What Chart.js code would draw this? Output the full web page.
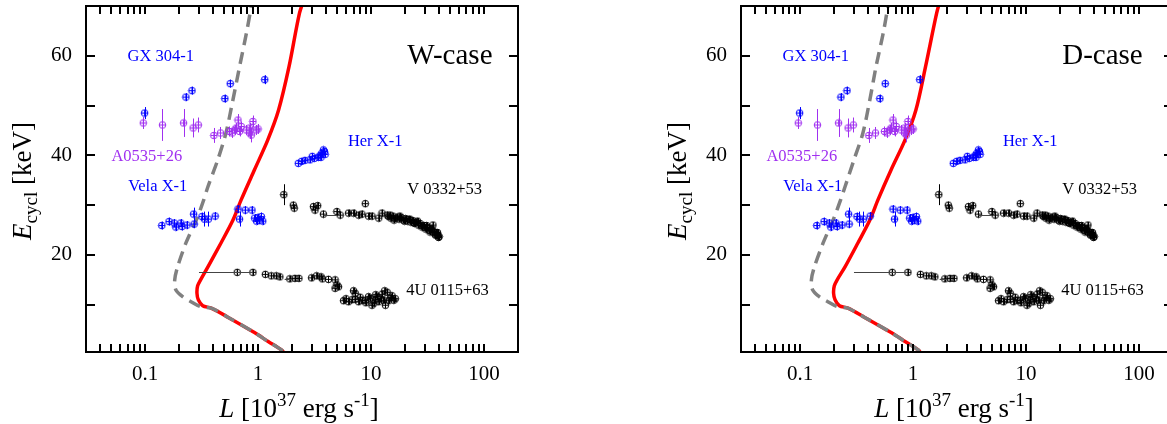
<!DOCTYPE html>
<html><head><meta charset="utf-8">
<script src="https://cdn.jsdelivr.net/npm/chart.js@4.4.0/dist/chart.umd.min.js"></script>
<style>
html,body{margin:0;padding:0;background:#fff;overflow:hidden;}
#wrap{position:relative;width:1167px;height:424px;overflow:hidden;background:#fff;}
canvas{position:absolute;top:0;}
#c1{left:0;}
#c2{left:655px;}
</style></head><body>
<div id="wrap"><canvas id="c1" width="655" height="424"></canvas><canvas id="c2" width="655" height="424"></canvas></div>
<script>
// ---------- axis ticks ----------
const xTickValues = [0.1, 1, 10, 100];
const xTickLabels = ['0.1', '1', '10', '100'];
const yTickValues = [20, 40, 60];
const yTickLabels = ['20', '40', '60'];
const yMinorTicks = [10, 20, 30, 40, 50, 60];

// ---------- observed sources (L in 1e37 erg/s, E in keV) ----------
const gxL = [0.099, 0.230, 0.260, 0.508, 0.567, 1.146];
const gxE = [48.5, 51.7, 53.0, 51.4, 54.4, 55.2];
const gxErr = [1.2, 0.8, 0.8, 0.8, 0.8, 0.9];

const aL = [0.0964, 0.1426, 0.219, 0.266, 0.296, 0.406, 0.465, 0.558, 0.590, 0.619, 0.641, 0.664, 0.686, 0.710, 0.787, 0.842, 0.842, 0.872, 0.900, 0.966, 1.00];
const aE = [46.5, 46.1, 46.5, 45.5, 46.1, 44.0, 44.5, 44.8, 44.5, 45.1, 45.5, 47.1, 44.8, 45.8, 45.1, 45.5, 44.5, 44.1, 46.8, 45.1, 45.3];
const aErr = [1.2, 3.2, 2.8, 1.9, 1.5, 1.5, 1.2, 1.0, 1.0, 1.0, 1.0, 1.2, 1.0, 1.0, 1.0, 1.0, 1.2, 1.5, 1.2, 1.0, 1.0];

const velaL = [0.1406, 0.163, 0.181, 0.187, 0.207, 0.212, 0.235, 0.269, 0.272, 0.319, 0.335, 0.363, 0.417, 0.664, 0.686, 0.77, 0.884, 0.933, 0.97, 0.99, 1.03, 1.07, 1.10];
const velaE = [25.9, 26.7, 26.4, 25.6, 26.4, 25.7, 26.0, 28.2, 26.2, 27.7, 27.2, 27.2, 27.8, 29.2, 27.2, 29.0, 29.0, 27.4, 26.8, 27.5, 27.0, 27.7, 26.8];
const velaErr = [0.8, 0.8, 0.8, 0.8, 0.8, 0.8, 0.8, 1.3, 0.8, 0.8, 1.5, 1.5, 0.8, 0.8, 1.5, 0.8, 0.8, 0.8, 0.8, 0.8, 0.8, 0.8, 0.8];

const herL = [2.27, 2.43, 2.60, 2.88, 3.02, 3.15, 3.42, 3.54, 3.60, 3.66, 3.79, 3.87, 3.92];
const herE = [38.4, 38.8, 39.0, 39.1, 39.8, 39.4, 39.6, 40.0, 39.6, 40.4, 41.1, 40.8, 40.2];
const herErr = [0.6, 0.6, 0.6, 0.6, 0.6, 0.6, 0.6, 0.6, 0.6, 0.6, 0.6, 0.6, 0.6];

const vL = [1.69, 2.05, 2.09, 3.09, 3.19, 3.37, 3.79, 4.98, 5.33, 6.32, 7.0, 7.76, 8.3, 8.9, 9.5, 10.2, 11.7, 12.5, 13.9,
  14.3, 15.0, 15.6, 16.3, 17.0, 17.7, 18.5, 19.3, 20.2, 21.0, 21.7, 22.5, 23.4, 24.3, 25.2, 26.2, 27.2, 28.3, 29.4, 30.5,
  31.6, 32.8, 34.0, 35.3, 36.0, 36.8, 37.6, 38.4, 39.2, 40.0,
  14.8, 16.0, 18.0, 19.8, 22.0, 23.8, 25.8, 27.8, 29.9, 31.0, 33.3, 34.6, 37.2, 38.8, 39.6];
const vE = [32.1, 30.0, 29.4, 29.7, 29.0, 29.9, 28.2, 28.7, 28.0, 28.4, 28.4, 28.0, 28.2, 30.3, 27.8, 27.8, 27.4, 28.4, 28.0,
  27.7, 27.4, 27.8, 27.3, 27.6, 27.2, 27.5, 27.0, 27.3, 26.8, 27.1, 26.6, 26.9, 26.3, 26.6, 26.0, 26.3, 25.6, 25.9, 25.2,
  25.5, 24.9, 25.1, 26.0, 24.6, 24.2, 24.5, 24.0, 23.9, 23.7,
  28.0, 27.0, 27.8, 26.8, 27.2, 26.5, 26.8, 25.9, 25.5, 25.9, 24.6, 25.3, 24.0, 24.5, 23.5];
const vErr = [2.1, 0.7, 0.7, 0.7, 0.7, 0.7, 0.7, 0.7, 0.7, 0.7, 0.7, 0.7, 0.7, 0.7, 0.7, 0.7, 0.7, 0.7, 0.7,
  0.6, 0.6, 0.6, 0.6, 0.6, 0.6, 0.6, 0.6, 0.6, 0.6, 0.6, 0.6, 0.6, 0.6, 0.6, 0.6, 0.6, 0.6, 0.6, 0.6,
  0.6, 0.6, 0.6, 0.6, 0.6, 0.6, 0.6, 0.6, 0.6, 0.6,
  0.6, 0.6, 0.6, 0.6, 0.6, 0.6, 0.6, 0.6, 0.6, 0.6, 0.6, 0.6, 0.6, 0.6, 0.6];

const uL = [0.654, 0.90, 1.16, 1.31, 1.45, 1.56, 1.91, 2.12, 2.30, 2.98, 3.30, 3.61, 3.71, 4.2, 4.81, 4.98, 5.16, 4.81,
  5.71, 6.32, 7.25, 7.25, 7.76, 8.33, 8.9, 9.5, 9.85, 10.2, 10.6, 11.3, 11.7, 12.5, 12.9, 13.4, 13.9, 14.9, 15.9,
  6.0, 6.8, 7.0, 8.0, 9.0, 10.9, 11.0, 12.2, 13.2, 14.3, 15.3, 16.4];
const uE = [16.5, 16.5, 16.1, 15.8, 15.8, 15.6, 15.2, 15.3, 15.3, 15.4, 15.8, 15.6, 15.2, 15.1, 15.0, 14.0, 13.6, 13.3,
  10.8, 10.6, 12.3, 11.1, 10.6, 10.9, 10.8, 11.6, 11.3, 9.9, 10.3, 11.6, 10.6, 12.1, 10.9, 9.9, 12.5, 11.4, 10.9,
  11.2, 11.0, 12.8, 11.5, 10.4, 11.0, 12.0, 11.2, 12.8, 10.8, 11.8, 11.2];
const uErr = [0.6, 0.6, 0.6, 0.6, 0.6, 0.6, 0.6, 0.6, 0.6, 0.6, 0.6, 0.6, 0.6, 0.6, 0.6, 0.6, 0.6, 0.6,
  0.6, 0.6, 0.6, 0.6, 0.6, 0.6, 0.6, 0.6, 0.6, 0.6, 0.6, 0.6, 0.6, 0.6, 0.6, 0.6, 0.6, 0.6, 0.6,
  0.6, 0.6, 0.6, 0.6, 0.6, 0.6, 0.6, 0.6, 0.6, 0.6, 0.6, 0.6];

// horizontal error bars (E, L low, L high)
const hbarE = [16.5, 28.1, 15.2, 13.5];
const hbarLo = [0.30, 3.8, 1.72, 4.5];
const hbarHi = [0.90, 5.0, 1.95, 5.0];

// ---------- model curves ----------
const wRedL = [1.75, 1.61, 1.23, 0.93, 0.54, 0.385, 0.324, 0.296, 0.288, 0.292, 0.31, 0.36, 0.47, 0.60, 0.71, 0.93, 1.22, 1.52, 1.88, 2.33, 2.62];
const wRedE = [0.0, 0.9, 2.6, 4.4, 7.5, 9.3, 9.8, 11.0, 12.3, 13.8, 15.0, 17.6, 22.4, 27.0, 31.1, 37.1, 43.1, 49.1, 57.8, 68.6, 72];
const wGreyL = [0.90, 0.87, 0.79, 0.686, 0.60, 0.52, 0.44, 0.36, 0.33, 0.29, 0.23, 0.194, 0.183, 0.187, 0.215, 0.255, 0.31, 0.385, 0.54, 0.93, 1.23, 1.61, 1.75];
const wGreyE = [72, 69.9, 64.6, 57.8, 51.2, 44.5, 39.1, 33.7, 31.0, 27.5, 22.4, 17.6, 15.0, 13.0, 11.6, 10.6, 9.6, 9.3, 7.5, 4.4, 2.6, 0.9, 0];

const dRedL = [1.20, 1.11, 0.85, 0.64, 0.37, 0.265, 0.223, 0.204, 0.198, 0.201, 0.213, 0.25, 0.325, 0.415, 0.49, 0.64, 0.85, 1.06, 1.29, 1.62, 1.78];
const dRedE = [0.0, 0.9, 2.6, 4.4, 7.5, 9.3, 9.8, 11.0, 12.3, 13.8, 15.0, 17.6, 22.4, 27.0, 31.1, 37.1, 43.1, 49.1, 57.8, 68.6, 72];
const dGreyL = [0.62, 0.60, 0.545, 0.47, 0.415, 0.36, 0.30, 0.25, 0.228, 0.20, 0.16, 0.134, 0.126, 0.129, 0.148, 0.176, 0.214, 0.265, 0.37, 0.64, 0.85, 1.11, 1.20];
const dGreyE = [72, 70, 64.6, 57.8, 51.2, 44.5, 39.1, 33.7, 31.0, 27.5, 22.4, 17.6, 15.0, 13.0, 11.6, 10.6, 9.6, 9.3, 7.5, 4.4, 2.6, 0.9, 0];

// ---------- labels ----------
const labelTexts = ['GX 304-1', 'A0535+26', 'Vela X-1', 'Her X-1', 'V 0332+53', '4U 0115+63'];
const labelL = [0.070, 0.0504, 0.0709, 6.24, 20.9, 20.5];
const labelE = [59.9, 39.8, 33.7, 42.8, 33.1, 12.8];
const BLUE = '#0000ff', PURPLE = '#a030f0', BLACK = '#000000';
const labelColors = [BLUE, PURPLE, BLUE, BLUE, BLACK, BLACK];
const caseL = 20.9, caseE = 59.9;

const SERIF = '"Liberation Serif", "Times New Roman", serif';

function marker(color) {
  const c = document.createElement('canvas');
  c.width = 9; c.height = 9;
  const g = c.getContext('2d');
  g.strokeStyle = color; g.lineWidth = 1;
  g.beginPath(); g.arc(4.5, 4.5, 3.3, 0, 2 * Math.PI); g.stroke();
  g.beginPath(); g.moveTo(4.5, 1.2); g.lineTo(4.5, 7.8); g.moveTo(1.2, 4.5); g.lineTo(7.8, 4.5); g.stroke();
  return c;
}
function pts(L, E) { return L.map((l, i) => ({x: l, y: E[i]})); }

const series = [
  {L: gxL, E: gxE, err: gxErr, color: BLUE},
  {L: aL, E: aE, err: aErr, color: PURPLE},
  {L: velaL, E: velaE, err: velaErr, color: BLUE},
  {L: herL, E: herE, err: herErr, color: BLUE},
  {L: vL, E: vE, err: vErr, color: BLACK},
  {L: uL, E: uE, err: uErr, color: BLACK}
];

const errPlugin = {
  id: 'errbars',
  afterDatasetsDraw(chart) {
    const {ctx, chartArea: a, scales: {x, y}} = chart;
    ctx.save();
    ctx.beginPath(); ctx.rect(a.left, a.top, a.right - a.left, a.bottom - a.top); ctx.clip();
    ctx.lineWidth = 1;
    series.forEach(s => {
      ctx.strokeStyle = s.color;
      ctx.beginPath();
      s.L.forEach((l, i) => {
        const px = Math.round(x.getPixelForValue(l)) + 0.5;
        ctx.moveTo(px, y.getPixelForValue(s.E[i] - s.err[i]));
        ctx.lineTo(px, y.getPixelForValue(s.E[i] + s.err[i]));
      });
      ctx.stroke();
    });
    ctx.strokeStyle = '#444';
    ctx.beginPath();
    hbarE.forEach((e, i) => {
      const py = Math.round(y.getPixelForValue(e)) + 0.5;
      ctx.moveTo(x.getPixelForValue(hbarLo[i]), py);
      ctx.lineTo(x.getPixelForValue(hbarHi[i]), py);
    });
    ctx.stroke();
    ctx.restore();
  }
};

function richWidth(ctx, parts) {
  let w = 0;
  parts.forEach(p => { ctx.font = p.font; w += ctx.measureText(p.t).width; });
  return w;
}
function drawRich(ctx, parts, cx, cy) {
  const w = richWidth(ctx, parts);
  let cur = cx - w / 2;
  ctx.textAlign = 'left'; ctx.textBaseline = 'alphabetic';
  parts.forEach(p => {
    ctx.font = p.font;
    ctx.fillText(p.t, cur, cy + (p.dy || 0));
    cur += ctx.measureText(p.t).width;
  });
}

function makeDecor(caseText) {
  return {
    id: 'decor',
    afterDraw(chart) {
      const {ctx, chartArea: a, scales: {x, y}} = chart;
      ctx.save();
      ctx.strokeStyle = '#000'; ctx.lineWidth = 2;
      ctx.strokeRect(a.left, a.top, a.right - a.left, a.bottom - a.top);
      ctx.beginPath();
      [0.01, 0.1, 1, 10, 100].forEach(dec => {
        for (let k = 1; k <= 9; k++) {
          const v = k * dec;
          if (v <= x.min * 1.0001 || v >= x.max * 0.9999) continue;
          const px = Math.round(x.getPixelForValue(v));
          ctx.moveTo(px, a.bottom); ctx.lineTo(px, a.bottom - 8);
          ctx.moveTo(px, a.top); ctx.lineTo(px, a.top + 8);
        }
      });
      yMinorTicks.forEach(v => {
        const py = Math.round(y.getPixelForValue(v));
        ctx.moveTo(a.left, py); ctx.lineTo(a.left + 9, py);
        ctx.moveTo(a.right, py); ctx.lineTo(a.right - 9, py);
      });
      ctx.stroke();
      ctx.textAlign = 'left'; ctx.textBaseline = 'middle';
      ctx.font = '16.5px ' + SERIF;
      labelTexts.forEach((t, i) => {
        ctx.fillStyle = labelColors[i];
        ctx.fillText(t, x.getPixelForValue(labelL[i]), y.getPixelForValue(labelE[i]));
      });
      ctx.fillStyle = '#000';
      ctx.font = '29px ' + SERIF;
      ctx.fillText(caseText, x.getPixelForValue(caseL), y.getPixelForValue(caseE));
      const cxT = (a.left + a.right) / 2 - 3;
      drawRich(ctx, [
        {t: 'L', font: 'italic 27px ' + SERIF},
        {t: ' [10', font: '27px ' + SERIF},
        {t: '37', font: '19px ' + SERIF, dy: -11},
        {t: ' erg s', font: '27px ' + SERIF},
        {t: '-1', font: '19px ' + SERIF, dy: -11},
        {t: ']', font: '27px ' + SERIF}
      ], cxT, 417);
      ctx.save();
      ctx.translate(31, 181);
      ctx.rotate(-Math.PI / 2);
      drawRich(ctx, [
        {t: 'E', font: 'italic 27px ' + SERIF},
        {t: 'cycl', font: '19px ' + SERIF, dy: 6},
        {t: ' [keV]', font: '27px ' + SERIF}
      ], 0, 0);
      ctx.restore();
      ctx.restore();
    }
  };
}

function buildChart(id, redL, redE, greyL, greyE, caseText) {
  const datasets = series.map(s => ({
    type: 'scatter', data: pts(s.L, s.E), pointStyle: marker(s.color),
    pointRadius: 4, showLine: false, order: 0
  }));
  datasets.push({
    type: 'scatter', data: pts(greyL, greyE), showLine: true, borderColor: '#808080',
    borderWidth: 3.5, borderDash: [12, 7], pointRadius: 0, tension: 0.3, order: 1
  });
  datasets.push({
    type: 'scatter', data: pts(redL, redE), showLine: true, borderColor: '#ff0000',
    borderWidth: 3.5, pointRadius: 0, tension: 0.3, order: 2
  });
  new Chart(document.getElementById(id), {
    type: 'scatter',
    data: {datasets},
    options: {
      responsive: false, animation: false, devicePixelRatio: 1,
      layout: {padding: {left: 0, right: 137, top: 6, bottom: 0}},
      plugins: {legend: {display: false}, tooltip: {enabled: false}},
      scales: {
        x: {
          type: 'logarithmic', min: 0.03, max: 200, bounds: 'data',
          grid: {display: false, drawTicks: false}, border: {display: false},
          afterBuildTicks: s => { s.ticks = xTickValues.map(v => ({value: v})); },
          afterFit: s => { s.height = 72; s.paddingLeft = 0; s.paddingRight = 0; s.paddingTop = 0; s.paddingBottom = 0; },
          ticks: {
            font: {family: SERIF, size: 21}, color: '#000', padding: 10,
            maxRotation: 0, autoSkip: false,
            callback: (v, i) => xTickLabels[i]
          }
        },
        y: {
          type: 'linear', min: 0.5, max: 70, bounds: 'data',
          grid: {display: false, drawTicks: false}, border: {display: false},
          afterBuildTicks: s => { s.ticks = yTickValues.map(v => ({value: v})); },
          afterFit: s => { s.width = 86; s.paddingLeft = 0; s.paddingRight = 0; s.paddingTop = 0; s.paddingBottom = 0; },
          ticks: {
            font: {family: SERIF, size: 21}, color: '#000', padding: 14,
            autoSkip: false,
            callback: (v, i) => yTickLabels[i]
          }
        }
      }
    },
    plugins: [errPlugin, makeDecor(caseText)]
  });
}

buildChart('c1', wRedL, wRedE, wGreyL, wGreyE, 'W-case');
buildChart('c2', dRedL, dRedE, dGreyL, dGreyE, 'D-case');
</script>
</body></html>
